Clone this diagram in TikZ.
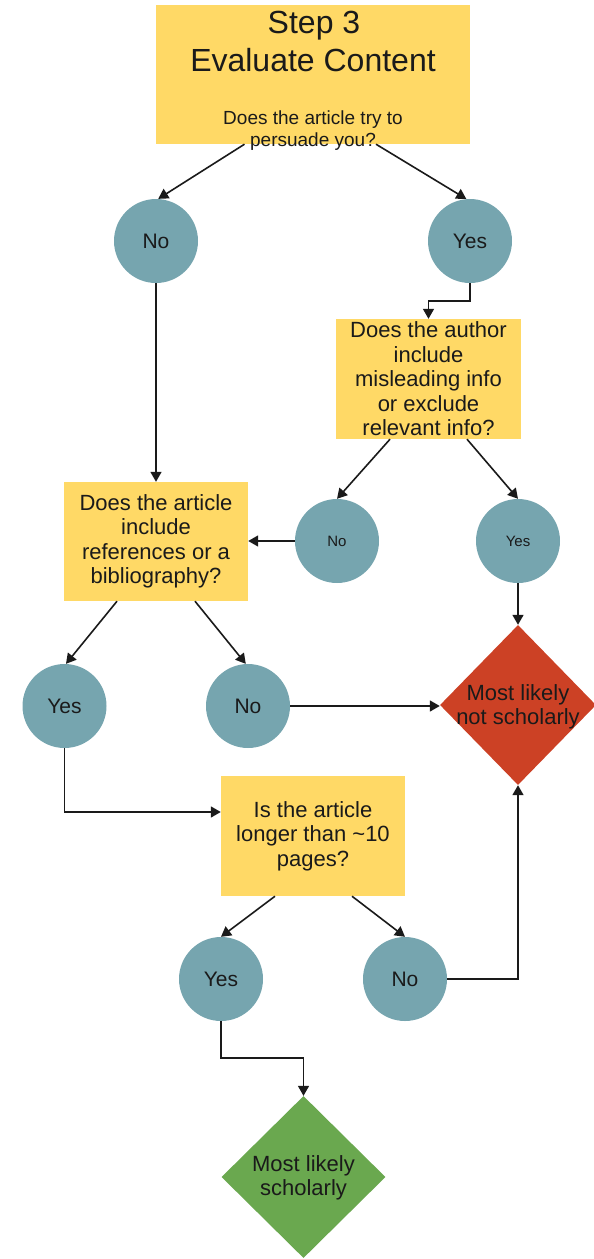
\documentclass[tikz,border=0pt]{standalone}
\usepackage{fontspec}
\setmainfont{Liberation Sans}
\usetikzlibrary{arrows.meta,shapes.geometric}
\definecolor{qyellow}{HTML}{FFD966}
\definecolor{ansblue}{HTML}{76A5AF}
\definecolor{notred}{HTML}{CC4125}
\definecolor{okgreen}{HTML}{6AA84F}
\definecolor{ink}{HTML}{1A1A1A}
\begin{document}
\begin{tikzpicture}[x=1pt,y=-1pt,
  qbox/.style={rectangle, fill=qyellow, inner sep=0pt, align=center, text=ink,
    font=\fontsize{22}{24.5}\selectfont},
  ans/.style={circle, fill=ansblue, minimum size=84pt, inner sep=0pt, text=ink,
    font=\fontsize{21}{24}\selectfont},
  anssmall/.style={ans, font=\fontsize{15}{18}\selectfont},
  result/.style={diamond, inner sep=0pt},
  restext/.style={align=center, text=ink, font=\fontsize{22}{24.5}\selectfont},
  titletext/.style={anchor=base, text=ink, inner sep=0pt, font=\fontsize{32}{38}\selectfont},
  qtext/.style={anchor=base, text=ink, inner sep=0pt, font=\fontsize{19}{22}\selectfont},
  conn/.style={line width=1.6pt, draw=ink, -{Triangle[length=10pt,width=11pt]}},
]
\useasboundingbox (0,0) rectangle (594,1259);

% question boxes
\node[qbox, minimum width=314pt, minimum height=139pt] (q1) at (313,74.5) {};
\node[titletext] (t1) at (314,33) {Step 3};
\node[titletext] (t2) at (313,71) {Evaluate Content};
\node[qtext] (t3) at (313,124) {Does the article try to};
\node[qtext] (t4) at (313,146) {persuade you?};

\node[qbox, minimum width=185pt, minimum height=120pt] (q2) at (428.5,379)
  {Does the author\\include\\misleading info\\or exclude\\relevant info?};
\node[qbox, minimum width=184pt, minimum height=119pt] (q3) at (156,541.5)
  {Does the article\\include\\references or a\\bibliography?};
\node[qbox, minimum width=184pt, minimum height=120pt] (q4) at (313,836)
  {Is the article\\longer than \textasciitilde10\\pages?};

% answer circles
\node[ans] (no1) at (156,241) {No};
\node[ans] (yes1) at (470,241) {Yes};
\node[anssmall] (no2) at (337,541) {No};
\node[anssmall] (yes2) at (518,541) {Yes};
\node[ans] (yes3) at (64.5,706) {Yes};
\node[ans] (no3) at (248,706) {No};
\node[ans] (yes4) at (221,979) {Yes};
\node[ans] (no4) at (405,979) {No};

% results
\node[result, fill=notred, minimum width=156pt, minimum height=160pt] (red) at (518,705) {};
\node[restext] (redt) at (518,707) {Most likely\\not scholarly};
\node[result, fill=okgreen, minimum width=164pt, minimum height=162pt] (green) at (303.5,1177) {};
\node[restext] (greent) at (303.5,1178) {Most likely\\scholarly};

% connectors
\draw[conn] ([xshift=-68.5pt]q1.south) -- (no1.87);
\draw[conn] ([xshift=63pt]q1.south) -- (yes1.95);
\draw[conn] (no1.south) -- (q3.north);
\draw[conn] (yes1.south) -- ++(0,18) -| (q2.north);
\draw[conn] ([xshift=-38.5pt]q2.south) -- (no2.north);
\draw[conn] ([xshift=38.5pt]q2.south) -- (yes2.north);
\draw[conn] (no2.west) -- (no2.west -| q3.east);
\draw[conn] (yes2.south) -- (red.north);
\draw[conn] ([xshift=-39pt]q3.south) -- (yes3.88);
\draw[conn] ([xshift=39pt]q3.south) -- (no3.93);
\draw[conn] (no3.east) -- (no3.east -| red.west);
\draw[conn] (yes3.south) |- ([yshift=24pt]q4.west);
\draw[conn] ([xshift=-38pt]q4.south) -- (yes4.north);
\draw[conn] ([xshift=39pt]q4.south) -- (no4.north);
\draw[conn] (no4.east) -| (red.south);
\draw[conn] (yes4.south) -- ++(0,37) -| (green.north);
\end{tikzpicture}
\end{document}
